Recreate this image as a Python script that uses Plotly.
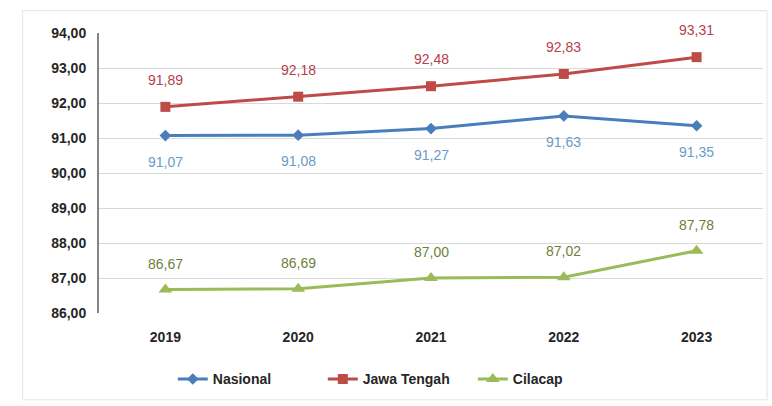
import plotly.graph_objects as go

years = ["2019", "2020", "2021", "2022", "2023"]
nasional = [91.07, 91.08, 91.27, 91.63, 91.35]
jawa_tengah = [91.89, 92.18, 92.48, 92.83, 93.31]
cilacap = [86.67, 86.69, 87.00, 87.02, 87.78]

series = [
    ("Nasional", nasional, "#4A7EBB", "diamond", 9, "#6A9CC6", -26),
    ("Jawa Tengah", jawa_tengah, "#BE4B48", "square", 10, "#B8404A", 27),
    ("Cilacap", cilacap, "#9BBB59", "triangle-up", 12, "#6E7F3A", 26),
]

xpos = list(range(len(years)))

fig = go.Figure()
for name, vals, color, sym, msize, lcolor, shift in series:
    fig.add_trace(go.Scatter(
        x=xpos, y=list(vals), name=name, mode="lines+markers",
        line=dict(color=color, width=3),
        marker=dict(symbol=sym, size=msize, color=color),
    ))
    for xi, v in zip(xpos, vals):
        fig.add_annotation(
            x=xi, y=v, text=f"{v:.2f}".replace(".", ","), showarrow=False,
            yshift=shift, font=dict(family="Liberation Sans", size=14, color=lcolor),
        )

fig.update_layout(
    width=772, height=406,
    margin=dict(l=99, r=9, t=33, b=93),
    paper_bgcolor="white", plot_bgcolor="white",
    separators=",.",
    showlegend=True,
    legend=dict(orientation="h", x=0.45, xanchor="center", y=-0.18, yanchor="top",
                font=dict(family="Liberation Sans", size=14, color="#262626", weight="bold"),
                entrywidth=105, entrywidthmode="pixels"),
    font=dict(family="Liberation Sans", color="#262626"),
    shapes=[dict(type="rect", xref="paper", yref="paper", x0=-0.115, x1=1.006, y0=-0.31, y1=1.08,
                 line=dict(color="#E4E4E4", width=1), layer="below")],
)
fig.update_xaxes(type="linear", range=[-0.5, len(years) - 0.5], tickmode="array",
                 tickvals=xpos, ticktext=years, showgrid=False, showline=False, ticks="",
                 zeroline=False, ticklabelstandoff=14,
                 tickfont=dict(family="Liberation Sans", size=14, color="#262626", weight="bold"))
fig.update_yaxes(range=[86, 94], dtick=1, tickformat=".2f", showgrid=True, gridcolor="#D9D9D9",
                 gridwidth=1, showline=True, linecolor="#868686", linewidth=2, zeroline=False,
                 ticks="", ticklabelstandoff=8,
                 tickfont=dict(family="Liberation Sans", size=14, color="#262626", weight="bold"))
fig.write_html("out.html")
